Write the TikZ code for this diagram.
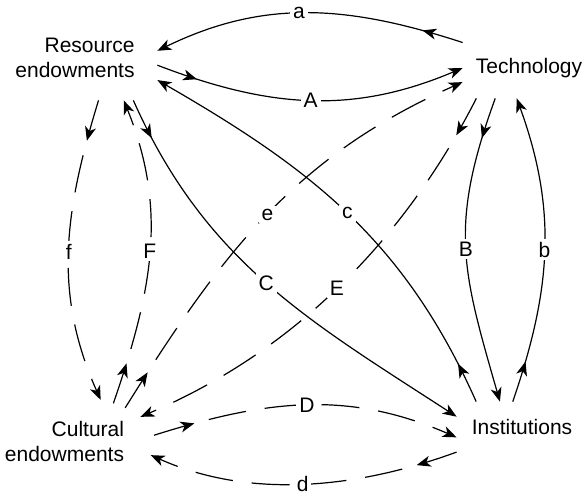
\documentclass[tikz,border=0pt]{standalone}
\usepackage{fontspec}
\setmainfont{Liberation Sans}
\usepackage{tikz}
\usetikzlibrary{arrows.meta,decorations.markings,shapes.geometric}

\tikzset{
  factor/.style={inner sep=0pt, align=right, font=\fontsize{10.5}{12.6}\selectfont},
  link/.style={line width=0.6pt, -{Stealth[length=7pt,width=5.5pt,inset=2pt]},
    postaction={decorate},
    decoration={markings, mark=at position 21pt with {\arrow{Stealth[length=7pt,width=5.5pt,inset=2pt]}}}},
  weak/.style={link, dash pattern=on 19pt off 9.5pt},
  tag/.style={fill=white, inner sep=1.5pt, font=\fontsize{10.5}{12.6}\selectfont},
}

\begin{document}
\begin{tikzpicture}[x=0.5pt, y=-0.5pt]
\useasboundingbox (0,0) rectangle (584,496);

% the four factors
\node[factor, minimum width=82pt, minimum height=42pt] (res) at (75,58) {Resource\\endowments};
\node[factor, minimum width=66pt, minimum height=30pt] (tech) at (529,68) {Technology};
\node[factor, ellipse, minimum width=90pt, minimum height=45pt] (cult) at (64.5,441.5) {Cultural\\endowments};
\node[factor, minimum width=65pt, minimum height=25pt] (inst) at (522,427) {Institutions};

% top pair
\draw[link] (tech.159) to[out=162, in=26] node[tag, pos=0.53] {a} (res.5);
\draw[link] (res.-5) to[out=-21, in=203] node[tag] {A} (tech.180);

% diagonals, solid
\draw[link] (inst.151) to[out=114, in=-30] node[tag] {c} (res.-15);
\draw[link] (res.-36) to[out=-66, in=147] node[tag] {C} (inst.171);

% diagonals, dashed
\draw[weak] (cult.29) to[out=58, in=204] node[tag] {e} (tech.192);
\draw[weak] (tech.210.5) to[out=243, in=23, looseness=0.9] node[tag] {E} (cult.18.4);

% left pair
\draw[weak] (res.-61) to[out=253, in=114] node[tag] {f} (cult.49);
\draw[weak] (cult.38.5) to[out=71, in=-68] node[tag] {F} (res.-41.6);

% right pair
\draw[link] (tech.222) to[out=250, in=106, looseness=1.15] node[tag] {B} (inst.131);
\draw[link] (inst.110) to[out=71, in=-70] node[tag] {b} (tech.248);

% bottom pair
\draw[weak] (cult.4) to[out=17.5, in=156.5] node[tag] {D} (inst.189);
\draw[weak] (inst.201) to[out=200, in=-24, looseness=0.9] node[tag] {d} (cult.-9);
\end{tikzpicture}
\end{document}
